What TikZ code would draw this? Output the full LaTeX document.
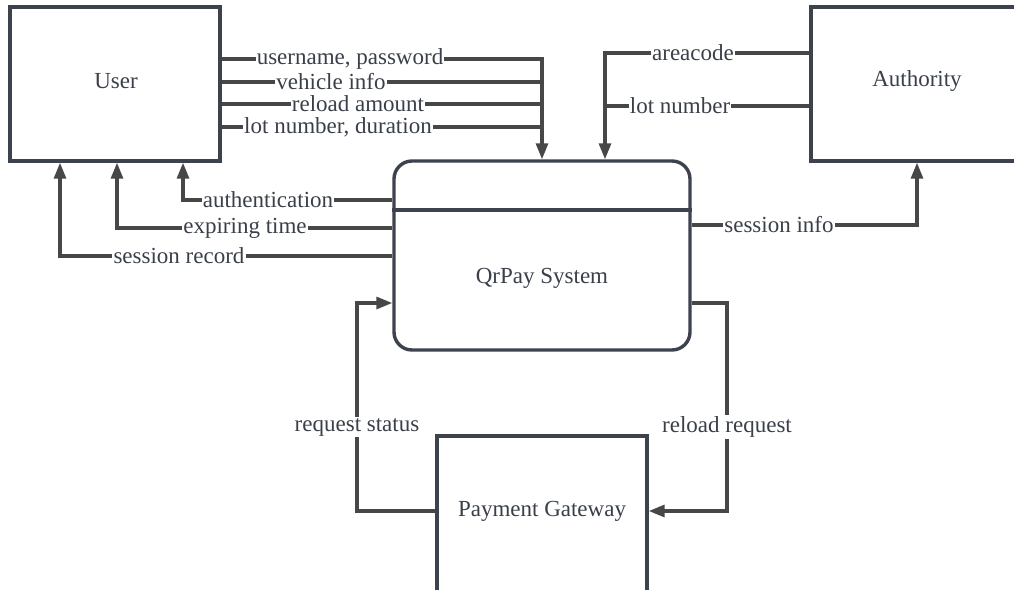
\documentclass[tikz,border=0pt]{standalone}
\usepackage{fontspec}
\setmainfont{Liberation Serif}
\usetikzlibrary{arrows.meta}
\definecolor{boxc}{HTML}{3D434C}
\definecolor{linec}{HTML}{474747}
\definecolor{txtc}{HTML}{3A4049}
\begin{document}
\begin{tikzpicture}[x=1pt,y=-1pt,
  ent/.style={draw=boxc, line width=3.4pt, fill=white, inner sep=0pt},
  flow/.style={draw=linec, line width=3.1pt, -{Triangle[length=16pt,width=12pt]}},
  plain/.style={draw=linec, line width=3.1pt},
  lbl/.style={fill=white, text=txtc, font=\fontsize{23}{27}\selectfont, inner sep=1.2pt},
  txt/.style={text=txtc, font=\fontsize{23}{27}\selectfont, inner sep=0pt}]
\useasboundingbox (0,0) rectangle (1014,589);
\clip (0,0) rectangle (1014,589);
\fill[white] (0,0) rectangle (1014,589);

% entities
\node[ent, minimum width=210pt, minimum height=154pt] (user) at (115,84) {};
\node[txt] (usert) at (116,81) {User};
\node[ent, minimum width=212pt, minimum height=154pt] (auth) at (917,84) {};
\node[txt] (autht) at (917,81) {Authority};
\node[ent, rounded corners=18pt, minimum width=296pt, minimum height=189pt] (qr) at (542,255.5) {};
\draw[draw=boxc, line width=3.4pt] (qr.west |- 0,210) -- (qr.east |- 0,210);
\node[txt] (qrt) at (542,278) {QrPay System};
\node[ent, minimum width=210pt, minimum height=170pt] (pg) at (542,521) {};
\node[txt] (pgt) at (542,511) {Payment Gateway};

% helper coordinates
\coordinate (jA) at (605,106);
\coordinate (rr) at (727,400);
\coordinate (rs) at (357,400);

% User -> QrPay
\draw[flow] (user.east |- 0,59) -| (qr.north);
\draw[plain] (user.east |- 0,82) -- (qr.north |- 0,82);
\draw[plain] (user.east |- 0,104) -- (qr.north |- 0,104);
\draw[plain] (user.east |- 0,127) -- (qr.north |- 0,127);
\node[lbl] (l1) at (350,59) {username, password};
\node[lbl] (l2) at (331,82) {vehicle info};
\node[lbl] (l3) at (358,104) {reload amount};
\node[lbl] (l4) at (338,127) {lot number, duration};

% QrPay -> User
\draw[flow] (qr.west |- 0,200) -| (user.south -| 183,0);
\draw[flow] (qr.west |- 0,228) -| (user.south -| 117,0);
\draw[flow] (qr.west |- 0,256) -| (user.south -| 60,0);
\node[lbl] (l5) at (268,200) {authentication};
\node[lbl] (l6) at (245,228) {expiring time};
\node[lbl] (l7) at (179,256) {session record};

% Authority -> QrPay
\draw[flow] (auth.west |- 0,53) -| (qr.north -| 605,0);
\draw[plain] (auth.west |- 0,106) -- (jA);
\node[lbl] (l8) at (693,53) {areacode};
\node[lbl] (l9) at (680,106) {lot number};

% QrPay -> Authority
\draw[flow] (qr.east |- 0,225) -| (auth.south);
\node[lbl] (l10) at (779,225) {session info};

% QrPay <-> Payment Gateway
\draw[flow] (qr.east |- 0,303) -| (rr) |- (pg.east |- 0,511);
\draw[flow] (pg.west |- 0,511) -| (rs) |- (qr.west |- 0,303);
\node[lbl] (l11) at (727,427) {reload request};
\node[lbl] (l12) at (357,427) {request status};
\end{tikzpicture}
\end{document}
